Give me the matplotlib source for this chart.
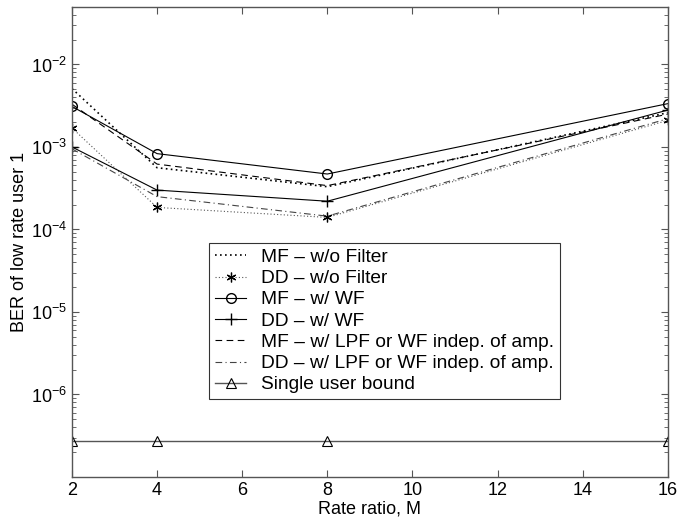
import matplotlib
matplotlib.use("Agg")
import matplotlib.pyplot as plt
from matplotlib.ticker import LogLocator, NullFormatter

plt.rcParams["font.family"] = ["Liberation Sans", "DejaVu Sans"]

# ---------------------------------------------------------------------------
# Data
# ---------------------------------------------------------------------------
rate_ratio = [2, 4, 8, 16]

mf_no_filter = [5.1e-3, 5.6e-4, 3.3e-4, 2.6e-3]
dd_no_filter = [1.7e-3, 1.85e-4, 1.4e-4, 2.1e-3]
mf_wf = [3.1e-3, 8.3e-4, 4.7e-4, 3.35e-3]
dd_wf = [1.0e-3, 3.0e-4, 2.2e-4, 2.8e-3]
mf_lpf = [3.3e-3, 6.2e-4, 3.4e-4, 2.5e-3]
dd_lpf = [0.95e-3, 2.5e-4, 1.45e-4, 2.2e-3]
single_user = [2.7e-7, 2.7e-7, 2.7e-7, 2.7e-7]

labels = [
    "MF \u2013 w/o Filter",
    "DD \u2013 w/o Filter",
    "MF \u2013 w/ WF",
    "DD \u2013 w/ WF",
    "MF \u2013 w/ LPF or WF indep. of amp.",
    "DD \u2013 w/ LPF or WF indep. of amp.",
    "Single user bound",
]

# ---------------------------------------------------------------------------
fig = plt.figure(figsize=(6.92, 5.23), dpi=100)
ax = fig.add_axes([0.104, 0.088, 0.861, 0.899])

lw = 0.8
asterisk = (6, 2, 0)  # MATLAB-style '*' marker
ax.semilogy(rate_ratio, mf_no_filter, color="black", linestyle=(0, (1, 2)),
            linewidth=1.2, label=labels[0])
ax.semilogy(rate_ratio, dd_no_filter, color="#555555", linestyle=(0, (1, 2)),
            linewidth=lw, marker=asterisk, markersize=7, markeredgecolor="black",
            markeredgewidth=0.9, label=labels[1])
ax.semilogy(rate_ratio, mf_wf, color="black", linestyle="-", linewidth=lw,
            marker="o", markersize=7, markerfacecolor="none", label=labels[2])
ax.semilogy(rate_ratio, dd_wf, color="black", linestyle="-", linewidth=lw,
            marker="+", markersize=8, label=labels[3])
ax.semilogy(rate_ratio, mf_lpf, color="black", linestyle=(0, (6, 4)),
            linewidth=lw, label=labels[4])
ax.semilogy(rate_ratio, dd_lpf, color="#444444", linestyle=(0, (6, 3, 1, 3)),
            linewidth=lw, label=labels[5])
ax.semilogy(rate_ratio, single_user, color="#555555", linestyle="-",
            linewidth=1.0, marker="^", markersize=7, markerfacecolor="none",
            markeredgecolor="black", markeredgewidth=0.8, label=labels[6])

ax.set_xlim(2, 16)
ax.set_ylim(1e-7, 5e-2)
ax.set_xticks(range(2, 17, 2))
ax.set_yticks([1e-6, 1e-5, 1e-4, 1e-3, 1e-2])
ax.yaxis.set_minor_locator(LogLocator(base=10, subs=range(2, 10), numticks=20))
ax.yaxis.set_minor_formatter(NullFormatter())

ax.tick_params(which="both", direction="in", top=True, right=True,
               labelsize=13, color="#555555")
ax.tick_params(which="major", length=5)
ax.tick_params(which="minor", length=3)
for spine in ax.spines.values():
    spine.set_color("#555555")
    spine.set_linewidth(1.0)

ax.set_xlabel("Rate ratio, M", fontsize=13, labelpad=1)
ax.set_ylabel("BER of low rate user 1", fontsize=13, labelpad=2)

leg = ax.legend(loc="upper left", bbox_to_anchor=(0.23, 0.498), fontsize=13.8,
                frameon=True, fancybox=False, edgecolor="black",
                handlelength=1.65, handletextpad=0.75, borderpad=0.3,
                labelspacing=0.2, borderaxespad=0.0)
leg.get_frame().set_linewidth(0.8)

fig.savefig("out.png", dpi=100)
